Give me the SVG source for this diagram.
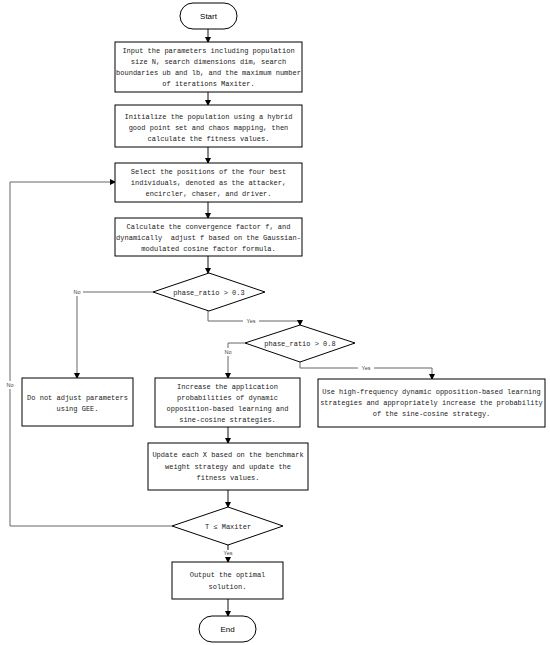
<svg xmlns="http://www.w3.org/2000/svg" width="550" height="645" viewBox="0 0 550 645">
<style>
.box{fill:#fff;stroke:#000;stroke-width:1}
.t{font-family:"Liberation Mono",monospace;font-size:7px;fill:#222;text-anchor:middle}
.s{font-family:"Liberation Sans",Arial,sans-serif;font-size:8px;fill:#000;text-anchor:middle}
.lb{font-family:"Liberation Sans",Arial,sans-serif;font-size:5.5px;fill:#444;text-anchor:middle}
.c{fill:none;stroke:#111;stroke-width:1}
.g{fill:none;stroke:#666;stroke-width:1}
</style>
<defs>
<marker id="ah" markerWidth="6" markerHeight="6" refX="5" refY="3" orient="auto" markerUnits="userSpaceOnUse">
<path d="M0,0 L6,3 L0,6 Z" fill="#000"/>
</marker>
</defs>
<g id="connectors">
<line class="c" x1="208" y1="29" x2="208" y2="42" marker-end="url(#ah)"/>
<line class="c" x1="208" y1="92" x2="208" y2="105" marker-end="url(#ah)"/>
<line class="c" x1="208" y1="147" x2="208" y2="163" marker-end="url(#ah)"/>
<line class="c" x1="208" y1="202" x2="208" y2="218" marker-end="url(#ah)"/>
<line class="c" x1="208" y1="256" x2="208" y2="273" marker-end="url(#ah)"/>
<polyline class="g" points="153,292 77,292 77,378" marker-end="url(#ah)"/>
<polyline class="g" points="208,311 208,321 300,321 300,325" marker-end="url(#ah)"/>
<polyline class="g" points="245,343 228,343 228,378" marker-end="url(#ah)"/>
<polyline class="g" points="300,362 300,368 432,368 432,379" marker-end="url(#ah)"/>
<line class="c" x1="228" y1="427" x2="228" y2="443" marker-end="url(#ah)"/>
<line class="c" x1="228" y1="490" x2="228" y2="507" marker-end="url(#ah)"/>
<polyline class="g" points="172,526 10,526 10,182 115,182" marker-end="url(#ah)"/>
<line class="c" x1="228" y1="545" x2="228" y2="562" marker-end="url(#ah)"/>
<line class="c" x1="228" y1="599" x2="228" y2="616" marker-end="url(#ah)"/>
<rect x="71" y="288" width="12" height="8" fill="#fff"/>
<text class="lb" x="77" y="294">No</text>
<rect x="243" y="318" width="16" height="7" fill="#fff"/>
<text class="lb" x="251" y="323">Yes</text>
<rect x="222" y="348" width="12" height="8" fill="#fff"/>
<text class="lb" x="228" y="354">No</text>
<rect x="358" y="365" width="16" height="7" fill="#fff"/>
<text class="lb" x="366" y="370">Yes</text>
<rect x="4" y="381" width="12" height="8" fill="#fff"/>
<text class="lb" x="10" y="387">No</text>
<rect x="220" y="550" width="16" height="7" fill="#fff"/>
<text class="lb" x="228" y="555">Yes</text>
</g>
<g id="start">
<rect class="box" x="180" y="3" width="57" height="26" rx="13"/>
<text class="s" x="208.5" y="19">Start</text>
</g>
<g id="input">
<rect class="box" x="115" y="42" width="187" height="50"/>
<text class="t" x="208.5" y="53">Input the parameters including population</text>
<text class="t" x="208.5" y="64">size N, search dimensions dim, search</text>
<text class="t" x="208.5" y="75">boundaries ub and lb, and the maximum number</text>
<text class="t" x="208.5" y="86">of iterations Maxiter.</text>
</g>
<g id="init">
<rect class="box" x="115" y="105" width="187" height="42"/>
<text class="t" x="208.5" y="119">Initialize the population using a hybrid</text>
<text class="t" x="208.5" y="130">good point set and chaos mapping, then</text>
<text class="t" x="208.5" y="141">calculate the fitness values.</text>
</g>
<g id="select">
<rect class="box" x="115" y="163" width="187" height="39"/>
<text class="t" x="208.5" y="174">Select the positions of the four best</text>
<text class="t" x="208.5" y="185">individuals, denoted as the attacker,</text>
<text class="t" x="208.5" y="196">encircler, chaser, and driver.</text>
</g>
<g id="calc">
<rect class="box" x="115" y="218" width="187" height="38"/>
<text class="t" x="208.5" y="229">Calculate the convergence factor f, and</text>
<text class="t" x="208.5" y="240" xml:space="preserve">dynamically  adjust f based on the Gaussian-</text>
<text class="t" x="208.5" y="251">modulated cosine factor formula.</text>
</g>
<g id="d1">
<polygon class="box" points="209,273 265,292 209,311 153,292"/>
<text class="t" x="209" y="295">phase_ratio &gt; 0.3</text>
</g>
<g id="d2">
<polygon class="box" points="300,325 355,343 300,362 245,343"/>
<text class="t" x="300" y="346">phase_ratio &gt; 0.8</text>
</g>
<g id="noadjust">
<rect class="box" x="22" y="378" width="111" height="48"/>
<text class="t" x="77.5" y="400">Do not adjust parameters</text>
<text class="t" x="77.5" y="411">using GEE.</text>
</g>
<g id="increase">
<rect class="box" x="155" y="378" width="145" height="49"/>
<text class="t" x="227.5" y="389">Increase the application</text>
<text class="t" x="227.5" y="400">probabilities of dynamic</text>
<text class="t" x="227.5" y="411">opposition-based learning and</text>
<text class="t" x="227.5" y="422">sine-cosine strategies.</text>
</g>
<g id="highfreq">
<rect class="box" x="318" y="379" width="227" height="48"/>
<text class="t" x="431.5" y="394">Use high-frequency dynamic opposition-based learning</text>
<text class="t" x="431.5" y="405">strategies and appropriately increase the probability</text>
<text class="t" x="431.5" y="416">of the sine-cosine strategy.</text>
</g>
<g id="update">
<rect class="box" x="148" y="443" width="160" height="47"/>
<text class="t" x="228" y="457">Update each X based on the benchmark</text>
<text class="t" x="228" y="469">weight strategy and update the</text>
<text class="t" x="228" y="480">fitness values.</text>
</g>
<g id="d3">
<polygon class="box" points="228,507 283,526 228,545 172,526"/>
<text class="t" x="228" y="529">T ≤ Maxiter</text>
</g>
<g id="output">
<rect class="box" x="172" y="562" width="111" height="37"/>
<text class="t" x="227.5" y="577">Output the optimal</text>
<text class="t" x="227.5" y="589">solution.</text>
</g>
<g id="end">
<rect class="box" x="199" y="616" width="57" height="26" rx="13"/>
<text class="s" x="227.5" y="632">End</text>
</g>
</svg>
